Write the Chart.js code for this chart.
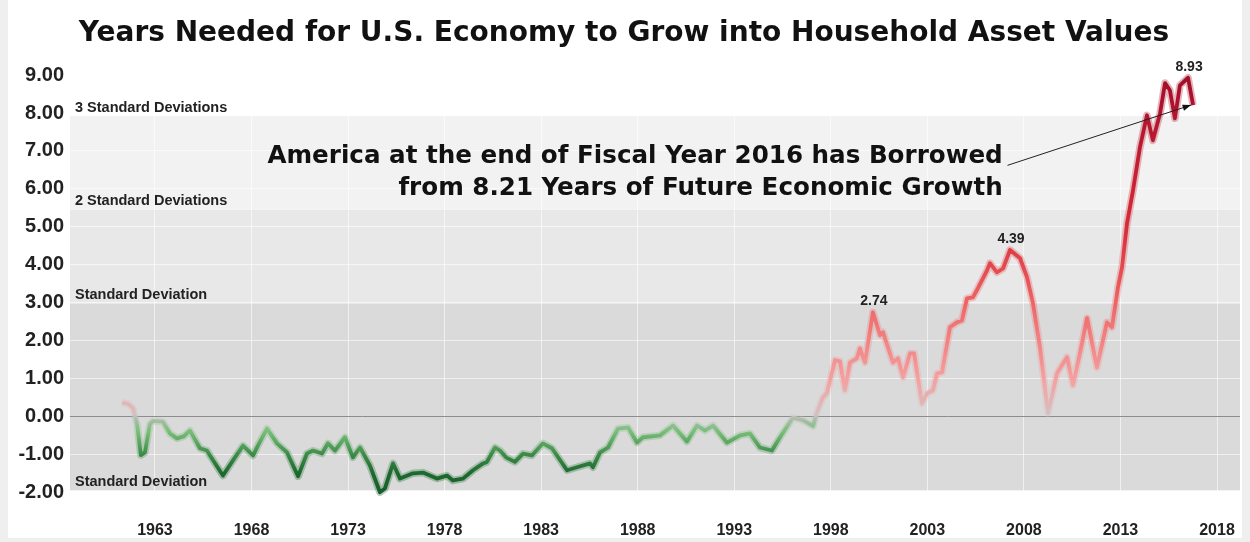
<!DOCTYPE html>
<html>
<head>
<meta charset="utf-8">
<title>Years Needed for U.S. Economy to Grow into Household Asset Values</title>
<script src="https://cdn.jsdelivr.net/npm/chart.js@4.4.1/dist/chart.umd.min.js"></script>
<style>
  html, body { margin: 0; padding: 0; background: #efefef; }
  .chart-box {
    position: absolute; left: 8px; top: 0;
    width: 1234px; height: 538px; background: #fff;
  }
</style>
</head>
<body>
<div class="chart-box"><canvas id="yearsChart"></canvas></div>
<script>
/* =====================================
   Data
===================================== */
const years = [
  1961.29, 1961.60, 1961.86, 1962.07, 1962.27, 1962.48, 1962.74, 1962.90,
  1963.41, 1963.78, 1964.14, 1964.50, 1964.81, 1965.33, 1965.69, 1965.85,
  1966.52, 1967.04, 1967.56, 1968.08, 1968.33, 1968.80, 1969.32, 1969.84,
  1970.41, 1970.87, 1971.18, 1971.65, 1971.96, 1972.32, 1972.84, 1973.25,
  1973.62, 1974.13, 1974.65, 1974.91, 1975.33, 1975.69, 1976.36, 1976.88,
  1977.60, 1978.12, 1978.43, 1978.95, 1979.47, 1979.99, 1980.19, 1980.61,
  1980.87, 1981.18, 1981.64, 1982.06, 1982.52, 1983.09, 1983.56, 1984.34,
  1984.85, 1985.53, 1985.68, 1986.05, 1986.46, 1986.98, 1987.50, 1987.96,
  1988.27, 1989.15, 1989.83, 1990.55, 1991.07, 1991.48, 1991.90, 1992.62,
  1993.30, 1993.81, 1994.33, 1994.95, 1995.37, 1996.04, 1996.56, 1997.08,
  1997.28, 1997.59, 1997.80, 1998.22, 1998.47, 1998.73, 1998.99, 1999.35,
  1999.51, 1999.77, 2000.18, 2000.55, 2000.70, 2001.22, 2001.48, 2001.74,
  2002.10, 2002.31, 2002.72, 2002.98, 2003.29, 2003.50, 2003.76, 2004.17,
  2004.53, 2004.79, 2005.05, 2005.36, 2005.62, 2006.09, 2006.24, 2006.60,
  2006.92, 2007.28, 2007.80, 2008.16, 2008.47, 2008.83, 2009.25, 2009.71,
  2009.97, 2010.23, 2010.54, 2010.90, 2011.27, 2011.78, 2012.30, 2012.56,
  2012.87, 2013.08, 2013.34, 2013.65, 2014.01, 2014.37, 2014.68, 2015.05,
  2015.31, 2015.56, 2015.82, 2016.08, 2016.50, 2016.76
];

const yearsNeeded = [
  0.36, 0.33, 0.22, -0.20, -1.02, -0.95, -0.20, -0.12,
  -0.14, -0.45, -0.58, -0.52, -0.37, -0.84, -0.90, -1.03,
  -1.56, -1.16, -0.77, -1.03, -0.77, -0.32, -0.71, -0.95,
  -1.58, -0.98, -0.90, -0.98, -0.71, -0.90, -0.55, -1.08,
  -0.82, -1.29, -2.00, -1.90, -1.24, -1.64, -1.50, -1.48,
  -1.64, -1.56, -1.69, -1.64, -1.42, -1.24, -1.20, -0.82,
  -0.90, -1.08, -1.20, -0.98, -1.03, -0.71, -0.84, -1.42,
  -1.34, -1.24, -1.34, -0.95, -0.82, -0.32, -0.29, -0.69,
  -0.55, -0.50, -0.24, -0.66, -0.24, -0.37, -0.24, -0.69,
  -0.50, -0.45, -0.82, -0.90, -0.55, -0.03, -0.10, -0.25,
  0.10, 0.50, 0.62, 1.48, 1.45, 0.69, 1.42, 1.53,
  1.79, 1.42, 2.74, 2.14, 2.22, 1.42, 1.53, 1.03,
  1.66, 1.66, 0.34, 0.60, 0.69, 1.13, 1.16, 2.35,
  2.48, 2.53, 3.11, 3.14, 3.38, 3.85, 4.04, 3.80,
  3.90, 4.39, 4.17, 3.67, 2.98, 1.82, 0.08, 1.13,
  1.35, 1.56, 0.82, 1.66, 2.59, 1.29, 2.48, 2.35,
  3.40, 3.93, 5.09, 5.96, 7.10, 7.94, 7.28, 7.99,
  8.79, 8.60, 7.86, 8.73, 8.93, 8.21
];

const yTicks = [-2, -1, 0, 1, 2, 3, 4, 5, 6, 7, 8, 9];
const xTicks = [1963, 1968, 1973, 1978, 1983, 1988, 1993, 1998, 2003, 2008, 2013, 2018];

// standard deviation band edges and their captions
const bandEdges = [-1.95, 2.98, 5.45, 7.92];
const bandLabels = [
  "Standard Deviation",
  "Standard Deviation",
  "2 Standard Deviations",
  "3 Standard Deviations"
];
const bandColors = ["#dadada", "#e8e8e8", "#f2f2f2"];

const peakValues = [2.74, 4.39, 8.93];

const noteLines = [
  "America at the end of Fiscal Year 2016 has Borrowed",
  "from 8.21 Years of Future Economic Growth"
];

/* =====================================
   Line colour: green below zero, red above
===================================== */
const colorStops = [
  [-2.0, [22, 95, 40]],
  [-1.5, [28, 105, 45]],
  [-1.0, [60, 140, 72]],
  [-0.4, [120, 190, 120]],
  [-0.05, [175, 190, 175]],
  [0.05, [215, 192, 192]],
  [1.0, [244, 160, 160]],
  [3.0, [238, 100, 100]],
  [5.0, [214, 44, 56]],
  [8.5, [170, 16, 44]],
  [9.0, [160, 14, 40]]
];

const gradientCache = {};

function valueGradient(chart, alpha) {
  const area = chart.chartArea;
  if (!area) return null;
  const key = alpha + ":" + area.top + ":" + area.bottom;
  if (gradientCache[key]) return gradientCache[key];
  const y = chart.scales.y;
  const lo = colorStops[0][0];
  const hi = colorStops[colorStops.length - 1][0];
  const g = chart.ctx.createLinearGradient(0, y.getPixelForValue(lo), 0, y.getPixelForValue(hi));
  colorStops.forEach(([v, c]) => {
    g.addColorStop((v - lo) / (hi - lo), `rgba(${c[0]}, ${c[1]}, ${c[2]}, ${alpha})`);
  });
  gradientCache[key] = g;
  return g;
}

/* =====================================
   Plugins
===================================== */
const bandPlugin = {
  id: "bands",
  beforeDraw(chart) {
    const { ctx, chartArea: area, scales: { y } } = chart;
    ctx.save();
    for (let i = 0; i < bandColors.length; i++) {
      const top = y.getPixelForValue(bandEdges[i + 1]);
      const bottom = y.getPixelForValue(bandEdges[i]);
      ctx.fillStyle = bandColors[i];
      ctx.fillRect(area.left, top, area.right - area.left, bottom - top);
    }
    ctx.restore();
  },
  beforeDatasetsDraw(chart) {
    const { ctx, chartArea: area, scales: { y } } = chart;
    ctx.save();
    ctx.font = "bold 14.5px 'Liberation Sans', Arial, sans-serif";
    ctx.fillStyle = "#222";
    ctx.textBaseline = "bottom";
    bandEdges.forEach((edge, i) => {
      ctx.fillText(bandLabels[i], area.left + 5, y.getPixelForValue(edge) - 1);
    });
    ctx.restore();
  }
};

const notePlugin = {
  id: "notes",
  afterDatasetsDraw(chart) {
    const { ctx, scales: { x, y } } = chart;
    const data = chart.data.datasets[0].data;
    ctx.save();

    // peak values
    ctx.font = "bold 14px 'Liberation Sans', Arial, sans-serif";
    ctx.fillStyle = "#222";
    ctx.textAlign = "center";
    ctx.textBaseline = "bottom";
    peakValues.forEach((v) => {
      const p = data.find((d) => d.y === v);
      if (!p) return;
      ctx.fillText(v.toFixed(2), x.getPixelForValue(p.x) + 1, y.getPixelForValue(p.y) - 4);
    });

    // callout text
    ctx.font = "bold 24.6px 'DejaVu Sans', sans-serif";
    ctx.fillStyle = "#111";
    ctx.textAlign = "right";
    ctx.textBaseline = "middle";
    const textRight = x.getPixelForValue(2006.9);
    ctx.fillText(noteLines[0], textRight, y.getPixelForValue(6.86));
    ctx.fillText(noteLines[1], textRight, y.getPixelForValue(6.01));

    // pointer to the last value
    const last = data[data.length - 1];
    const x0 = x.getPixelForValue(2007.15);
    const y0 = y.getPixelForValue(6.62);
    const x1 = x.getPixelForValue(last.x) - 2;
    const y1 = y.getPixelForValue(last.y);
    ctx.strokeStyle = "#222";
    ctx.lineWidth = 1;
    ctx.beginPath();
    ctx.moveTo(x0, y0);
    ctx.lineTo(x1, y1);
    ctx.stroke();
    const ang = Math.atan2(y1 - y0, x1 - x0);
    ctx.fillStyle = "#111";
    ctx.beginPath();
    ctx.moveTo(x1, y1);
    ctx.lineTo(x1 - 9 * Math.cos(ang - 0.35), y1 - 9 * Math.sin(ang - 0.35));
    ctx.lineTo(x1 - 9 * Math.cos(ang + 0.35), y1 - 9 * Math.sin(ang + 0.35));
    ctx.closePath();
    ctx.fill();

    ctx.restore();
  }
};

/* =====================================
   Chart
===================================== */
const points = years.map((yr, i) => ({ x: yr, y: yearsNeeded[i] }));

new Chart(document.getElementById("yearsChart"), {
  type: "line",
  data: {
    datasets: [
      {
        data: points,
        borderWidth: 3.8,
        borderJoinStyle: "round",
        borderColor: (c) => valueGradient(c.chart, 1),
        pointRadius: 0,
        tension: 0,
        order: 1
      },
      {
        data: points.map((p) => ({ x: p.x, y: p.y })),
        borderWidth: 7.5,
        borderJoinStyle: "round",
        borderColor: (c) => valueGradient(c.chart, 0.3),
        pointRadius: 0,
        tension: 0,
        order: 2
      }
    ]
  },
  options: {
    responsive: true,
    maintainAspectRatio: false,
    animation: false,
    layout: { padding: { left: 0, right: 2, top: 0, bottom: 0 } },
    plugins: {
      legend: { display: false },
      tooltip: { enabled: false },
      title: {
        display: true,
        text: "Years Needed for U.S. Economy to Grow into Household Asset Values",
        color: "#111",
        font: { size: 28, weight: "bold", family: "'DejaVu Sans', sans-serif" },
        padding: { top: 17, bottom: 4.4 }
      }
    },
    scales: {
      x: {
        type: "linear",
        min: 1958.6,
        max: 2019.19,
        afterBuildTicks: (scale) => {
          scale.ticks = xTicks.map((v) => ({ value: v }));
        },
        afterFit: (scale) => { scale.height = 23; },
        ticks: {
          padding: 6,
          color: "#222",
          font: { size: 16, weight: "bold", family: "'Liberation Sans', Arial, sans-serif" },
          callback: (v) => String(v)
        },
        grid: { color: "rgba(255,255,255,0.6)", drawTicks: false },
        border: { display: false }
      },
      y: {
        min: -2.6,
        max: 9.53,
        afterBuildTicks: (scale) => {
          scale.ticks = yTicks.map((v) => ({ value: v }));
        },
        afterFit: (scale) => { scale.width = 62; },
        ticks: {
          padding: 6,
          color: "#222",
          font: { size: 20, weight: "bold", family: "'Liberation Sans', Arial, sans-serif" },
          callback: (v) => v.toFixed(2)
        },
        grid: {
          drawTicks: false,
          color: (c) => (c.tick && c.tick.value === 0 ? "#8c8c8c" : "rgba(255,255,255,0.6)")
        },
        border: { display: false }
      }
    }
  },
  plugins: [bandPlugin, notePlugin]
});
</script>
</body>
</html>
